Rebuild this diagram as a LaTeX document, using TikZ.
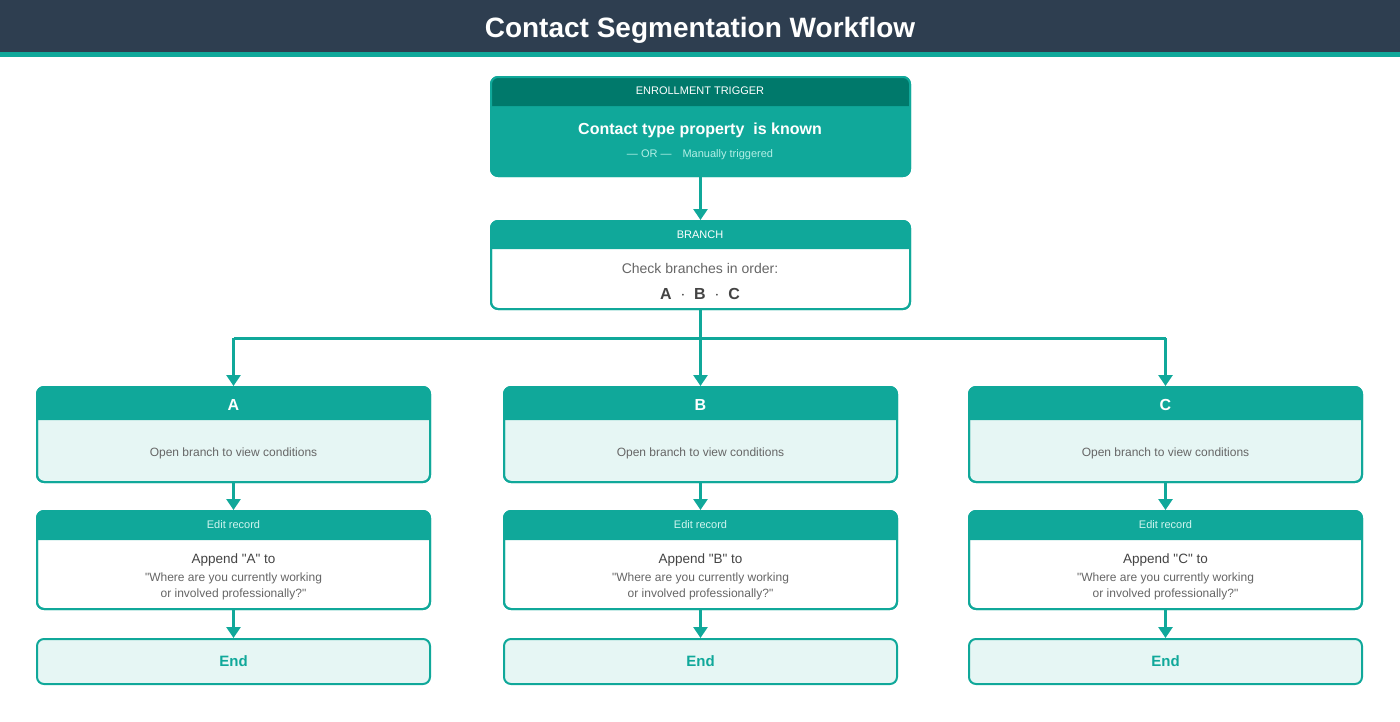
\documentclass[tikz,border=0pt]{standalone}
\usepackage{fontspec}
\setmainfont{Liberation Sans}
\usetikzlibrary{arrows.meta, positioning, calc}
\definecolor{navy}{HTML}{2E3E50}
\definecolor{teal1}{HTML}{10A89A}
\definecolor{teal2}{HTML}{00796B}
\definecolor{mint}{HTML}{E6F6F4}
\definecolor{mint2}{HTML}{B2EFE6}
\definecolor{txt}{HTML}{444444}
\definecolor{txtl}{HTML}{666666}
\tikzset{
  box/.style={draw=teal1, line width=2pt, rounded corners=7pt, inner sep=0pt},
  arr/.style={draw=teal1, line width=3pt, -{Triangle[length=11pt,width=14pt]}},
  fs/.style={font=\fontsize{#1}{#1}\selectfont}
}
\newcommand{\qq}{\textquotedbl}
% rounded header strip of a box: x1, x2, y top, y bottom, colour
\newcommand{\headstrip}[5]{\fill[#5, rounded corners=7pt] (#1,#4) |- (#2,#3) [sharp corners] -- (#2,#4) -- cycle;}
\begin{document}
\begin{tikzpicture}[x=1pt, y=-1pt]
\useasboundingbox (0,0) rectangle (1400,721);
% titre
\fill[navy] (0,0) rectangle (1400,52);
\fill[teal1] (0,52) rectangle (1400,57);
\node[text=white, font=\bfseries\fontsize{28}{28}\selectfont] (title) at (700,30) {Contact Segmentation Workflow};
% declencheur
\node[box, fill=teal1, minimum width=419pt, minimum height=99pt] (trig) at (700.5,126.5) {};
\headstrip{491}{910}{77}{106}{teal2}
\node[box, minimum width=419pt, minimum height=99pt] at (trig) {};
\node[fs=11, text=white] (trigh) at (700,91) {ENROLLMENT TRIGGER};
\node[text=white, font=\bfseries\fontsize{16}{16}\selectfont] (trigm) at (700,130) {Contact type property\ \ is known};
\node[fs=11, text=mint2] (trigo) at (700,155) {--- OR ---\quad Manually triggered};
% branche
\node[box, fill=white, minimum width=419pt, minimum height=88pt] (branch) at (700.5,265) {};
\headstrip{491}{910}{221}{249}{teal1}
\node[box, minimum width=419pt, minimum height=88pt] at (branch) {};
\node[fs=11, text=white] (branchh) at (700,235) {BRANCH};
\node[fs=14, text=txtl] (branchm) at (700,268) {Check branches in order:};
\node[text=txt, font=\bfseries\fontsize{16}{16}\selectfont] (branchl) at (700,294) {A\ \ $\cdot$\ \ B\ \ $\cdot$\ \ C};
\draw[arr] (trig.south) -- (branch.north);
\coordinate (split) at (branch.south |- 0,338);
\draw[draw=teal1, line width=3pt] (branch.south) -- (split);
% trois branches
\foreach \n/\x in {A/233.5, B/700.5, C/1165.5} {
  \node[box, fill=mint, minimum width=393pt, minimum height=95pt] (cond\n) at (\x,434.5) {};
  \headstrip{\x-196.5}{\x+196.5}{387}{420}{teal1}
  \node[box, minimum width=393pt, minimum height=95pt] at (cond\n) {};
  \node[text=white, font=\bfseries\fontsize{16}{16}\selectfont] (condh\n) at (\x,405) {\n};
  \node[fs=12, text=txtl] (condm\n) at (\x,453) {Open branch to view conditions};
  \node[box, fill=white, minimum width=393pt, minimum height=98pt] (edit\n) at (\x,560) {};
  \headstrip{\x-196.5}{\x+196.5}{511}{540}{teal1}
  \node[box, minimum width=393pt, minimum height=98pt] at (edit\n) {};
  \node[fs=11, text=mint2!60!white] (edith\n) at (\x,525) {Edit record};
  \node[fs=13.5, text=txt] (editm\n) at (\x,560) {Append \qq\n\qq{} to};
  \node[text=txtl, align=center, font=\fontsize{12}{16}\selectfont] (editq\n) at (\x,586.5) {\qq Where are you currently working\\or involved professionally?\qq};
  \node[box, fill=mint, minimum width=393pt, minimum height=45pt, text=teal1, font=\bfseries\fontsize{15}{15}\selectfont] (end\n) at (\x,661.5) {End};
  \coordinate (top\n) at (\x,338);
  \draw[arr] (top\n) -- (cond\n.north);
  \draw[arr] (cond\n.south) -- (edit\n.north);
  \draw[arr] (edit\n.south) -- (end\n.north);
}
\draw[draw=teal1, line width=3pt] (topA) -- (topC);
\end{tikzpicture}
\end{document}
